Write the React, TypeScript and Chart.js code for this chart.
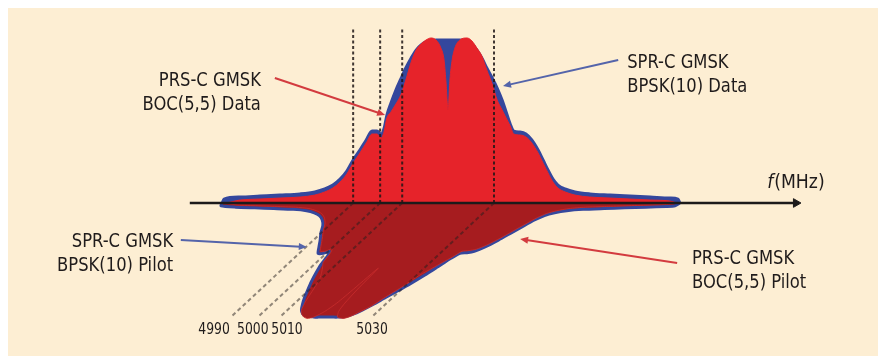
import { useEffect, useRef } from 'react';
import { Chart, registerables } from 'chart.js';

Chart.register(...registerables);

// ---- spectra (shared frequency grid, MHz) ----
const freqMHz = [
  4969.6, 4970.0, 4973.6, 4978.0, 4982.4, 4986.9, 4990.2, 4992.4, 4994.2, 4995.8,
  4997.3, 4998.7, 5000.2, 5001.6, 5002.9, 5004.0, 5004.9, 5005.6, 5006.2, 5007.1,
  5008.2, 5009.3, 5010.4, 5011.6, 5012.7, 5013.8, 5014.9, 5016.0, 5017.1, 5018.2,
  5018.9, 5019.3, 5019.8, 5020.2, 5020.7, 5021.3, 5022.4, 5024.0, 5025.1, 5026.2,
  5027.3, 5028.4, 5029.6, 5030.7, 5031.8, 5032.7, 5033.6, 5034.4, 5035.8, 5037.1,
  5038.4, 5039.8, 5040.9, 5042.0, 5043.1, 5044.2, 5045.8, 5048.0, 5051.3, 5055.8,
  5060.2, 5064.7, 5069.1, 5070.9, 5071.3,
];

// SPR-C GMSK, BPSK(10) relative PSD
const bpsk10 = [
  0, 0.024, 0.036, 0.042, 0.048, 0.055, 0.067, 0.085, 0.109, 0.145,
  0.194, 0.261, 0.321, 0.382, 0.436, 0.436, 0.418, 0.455, 0.533, 0.606,
  0.685, 0.752, 0.818, 0.879, 0.927, 0.958, 0.976, 0.982, 0.988, 0.988,
  0.988, 0.988, 0.988, 0.988, 0.988, 0.988, 0.988, 0.982, 0.964, 0.927,
  0.879, 0.818, 0.758, 0.697, 0.624, 0.552, 0.479, 0.436, 0.430, 0.418,
  0.382, 0.321, 0.261, 0.200, 0.145, 0.109, 0.085, 0.067, 0.055, 0.048,
  0.042, 0.036, 0.030, 0.024, 0,
];

// PRS-C GMSK, BOC(5,5) relative PSD
const boc55 = [
  0, 0, 0.018, 0.024, 0.030, 0.036, 0.048, 0.067, 0.091, 0.127,
  0.176, 0.242, 0.303, 0.364, 0.418, 0.418, 0.394, 0.436, 0.515, 0.552,
  0.600, 0.655, 0.745, 0.855, 0.927, 0.964, 0.988, 1.000, 0.988, 0.939,
  0.867, 0.745, 0.564, 0.745, 0.867, 0.939, 0.988, 1.000, 0.982, 0.939,
  0.891, 0.806, 0.721, 0.624, 0.564, 0.515, 0.467, 0.418, 0.412, 0.400,
  0.364, 0.303, 0.242, 0.182, 0.127, 0.091, 0.067, 0.048, 0.036, 0.030,
  0.024, 0.018, 0.012, 0, 0,
];

// frequency markers
const markerMHz = [4998.7, 5004.7, 5009.6, 5030.0];
const markerLabels = ['4990', '5000', '5010', '5030'];

// ---- drawing geometry ----
const X_MIN = 4922;
const X_MAX = 4922 + 870 / 4.5;
const Y_MIN = -153 / 165;
const Y_MAX = 195 / 165;
const AXIS_FROM = 4962.4;
const AXIS_TO = 5097.1;
const MARKER_TOP = 1.067;
const FLOOR_SHEAR = 27.5; // MHz shift per unit PSD on the oblique (pilot) plane
const FLOOR_DEPTH = 0.7; // depth per unit PSD on the oblique plane
const FLOOR_MARKER_LEN = 0.98;
const TICK_LABEL_MHZ = [4967.8, 4976.4, 4984.0, 5002.9];
const TICK_LABEL_Y = -0.794;

const RED = '#e6232a';
const BLUE = '#34479d';
const DARK_RED = '#a61c1f';
const RED_ARROW = '#d33b3f';
const BLUE_ARROW = '#5464aa';
const INK = '#1f1b1b';
const CREAM = '#fdeed3';
const FONT = "'Liberation Sans Narrow', 'DejaVu Sans Condensed', 'Roboto Condensed', 'Liberation Sans', sans-serif";

type Pt = [number, number];
interface Note {
  lines: string[];
  at: Pt;
  align: CanvasTextAlign;
  from: Pt;
  to: Pt;
  color: string;
}

const notes: Note[] = [
  { lines: ['PRS-C GMSK', 'BOC(5,5) Data'], at: [4978.2, 0.709], align: 'right', from: [4981.3, 0.758], to: [5005.8, 0.533], color: RED_ARROW },
  { lines: ['SPR-C GMSK', 'BPSK(10) Data'], at: [5059.6, 0.818], align: 'left', from: [5057.6, 0.867], to: [5032.0, 0.709], color: BLUE_ARROW },
  { lines: ['SPR-C GMSK', 'BPSK(10) Pilot'], at: [4958.7, -0.267], align: 'right', from: [4960.4, -0.224], to: [4988.4, -0.267], color: BLUE_ARROW },
  { lines: ['PRS-C GMSK', 'BOC(5,5) Pilot'], at: [5074.0, -0.37], align: 'left', from: [5070.7, -0.364], to: [5035.8, -0.218], color: RED_ARROW },
];
const AXIS_TITLE_AT: Pt = [5090.7, 0.091];

// pilot spectra are drawn on an oblique plane below the frequency axis
const onFloor = (p: number[]) =>
  freqMHz.map((f, i) => ({ x: f - FLOOR_SHEAR * p[i], y: -FLOOR_DEPTH * p[i] }));
const upright = (p: number[]) => freqMHz.map((f, i) => ({ x: f, y: p[i] }));

// narrow lettering: text is squeezed horizontally around its anchor
function narrowText(ctx: CanvasRenderingContext2D, text: string, x: number, y: number, align: CanvasTextAlign, squeeze: number) {
  ctx.save();
  ctx.translate(x, y);
  ctx.scale(squeeze, 1);
  ctx.textAlign = align;
  ctx.textBaseline = 'alphabetic';
  ctx.fillText(text, 0, 0);
  ctx.restore();
}

const noteLayer = {
  id: 'noteLayer',
  afterDraw(chart: Chart) {
    const { ctx } = chart;
    const sx = chart.scales.x;
    const sy = chart.scales.y;
    const X = (v: number) => sx.getPixelForValue(v);
    const Y = (v: number) => sy.getPixelForValue(v);
    ctx.save();

    for (const n of notes) {
      const x1 = X(n.from[0]), y1 = Y(n.from[1]);
      const x2 = X(n.to[0]), y2 = Y(n.to[1]);
      const a = Math.atan2(y2 - y1, x2 - x1);
      const head = 8;
      ctx.strokeStyle = n.color;
      ctx.fillStyle = n.color;
      ctx.lineWidth = 2;
      ctx.beginPath();
      ctx.moveTo(x1, y1);
      ctx.lineTo(x2 - Math.cos(a) * head * 0.8, y2 - Math.sin(a) * head * 0.8);
      ctx.stroke();
      ctx.beginPath();
      ctx.moveTo(x2, y2);
      ctx.lineTo(x2 - Math.cos(a) * head + Math.sin(a) * 3.5, y2 - Math.sin(a) * head - Math.cos(a) * 3.5);
      ctx.lineTo(x2 - Math.cos(a) * head - Math.sin(a) * 3.5, y2 - Math.sin(a) * head + Math.cos(a) * 3.5);
      ctx.closePath();
      ctx.fill();

      ctx.fillStyle = INK;
      ctx.font = `20px ${FONT}`;
      n.lines.forEach((t, i) => narrowText(ctx, t, X(n.at[0]), Y(n.at[1]) + i * 24, n.align, 0.91));
    }

    // axis title
    const tx = X(AXIS_TITLE_AT[0]);
    const ty = Y(AXIS_TITLE_AT[1]);
    ctx.fillStyle = INK;
    ctx.font = `italic 20px ${FONT}`;
    narrowText(ctx, 'f', tx, ty, 'left', 0.96);
    const fw = ctx.measureText('f').width * 0.96;
    ctx.font = `20px ${FONT}`;
    narrowText(ctx, '(MHz)', tx + fw + 1, ty, 'left', 0.96);

    // marker labels at the front edge of the oblique plane
    ctx.font = `16px ${FONT}`;
    markerLabels.forEach((t, i) => narrowText(ctx, t, X(TICK_LABEL_MHZ[i]), Y(TICK_LABEL_Y), 'center', 0.86));
    ctx.restore();
  },
};

export default function App() {
  const ref = useRef<HTMLCanvasElement>(null);

  useEffect(() => {
    if (!ref.current) return;
    const uprightMarkers = markerMHz.flatMap((f) => [
      { x: f, y: 0 },
      { x: f, y: MARKER_TOP },
      { x: f, y: null as any },
    ]);
    const floorMarkers = markerMHz.flatMap((f) => [
      { x: f, y: 0 },
      { x: f - FLOOR_SHEAR * FLOOR_MARKER_LEN, y: -FLOOR_DEPTH * FLOOR_MARKER_LEN },
      { x: f, y: null as any },
    ]);

    const chart = new Chart(ref.current, {
      type: 'line',
      data: {
        datasets: [
          {
            label: 'markers',
            data: uprightMarkers,
            borderColor: 'rgba(30,22,22,0.85)',
            borderWidth: 2,
            borderDash: [3, 2.5],
            pointRadius: 0,
            fill: false,
            spanGaps: false,
          },
          {
            label: 'floor markers',
            data: floorMarkers,
            borderColor: 'rgba(35,30,30,0.5)',
            borderWidth: 2,
            borderDash: [4, 3],
            pointRadius: 0,
            fill: false,
            spanGaps: false,
          },
          {
            label: 'f (MHz)',
            data: [{ x: AXIS_FROM, y: 0 }, { x: AXIS_TO, y: 0 }],
            borderColor: '#1c1a1a',
            borderWidth: 2.5,
            pointStyle: 'triangle',
            pointRotation: 90,
            pointRadius: (c: any) => (c.dataIndex === 1 ? 5 : 0),
            pointBackgroundColor: '#1c1a1a',
            pointBorderColor: '#1c1a1a',
            pointBorderWidth: 1,
            fill: false,
          },
          {
            label: 'PRS-C GMSK BOC(5,5) Data',
            data: upright(boc55),
            borderColor: RED,
            backgroundColor: RED,
            borderWidth: 1,
            pointRadius: 0,
            cubicInterpolationMode: 'monotone',
            fill: 'origin',
          },
          {
            label: 'SPR-C GMSK BPSK(10) Data',
            data: upright(bpsk10),
            borderColor: BLUE,
            backgroundColor: BLUE,
            borderWidth: 3,
            pointRadius: 0,
            cubicInterpolationMode: 'monotone',
            fill: 'origin',
          },
          {
            label: 'PRS-C GMSK BOC(5,5) Pilot',
            data: onFloor(boc55),
            borderColor: 'rgba(200,45,45,0.8)',
            backgroundColor: DARK_RED,
            borderWidth: 1,
            pointRadius: 0,
            tension: 0.2,
            fill: 'shape',
          },
          {
            label: 'SPR-C GMSK BPSK(10) Pilot',
            data: onFloor(bpsk10),
            borderColor: BLUE,
            backgroundColor: DARK_RED,
            borderWidth: 3,
            pointRadius: 0,
            tension: 0.2,
            fill: 'shape',
          },
        ],
      },
      options: {
        responsive: false,
        animation: false,
        events: [],
        layout: { padding: 0, autoPadding: false },
        plugins: {
          legend: { display: false },
          title: { display: false },
          tooltip: { enabled: false },
        },
        scales: {
          x: { type: 'linear', min: X_MIN, max: X_MAX, display: false },
          y: { type: 'linear', min: Y_MIN, max: Y_MAX, display: false },
        },
      },
      plugins: [noteLayer],
    } as any);
    return () => chart.destroy();
  }, []);

  return (
    <div style={{ position: 'fixed', left: 0, top: 0, width: 878, height: 356, background: '#ffffff' }}>
      <div style={{ position: 'absolute', left: 8, top: 8, width: 870, height: 348, background: CREAM }}>
        <canvas ref={ref} width={870} height={348} style={{ width: 870, height: 348, display: 'block' }} />
      </div>
    </div>
  );
}
